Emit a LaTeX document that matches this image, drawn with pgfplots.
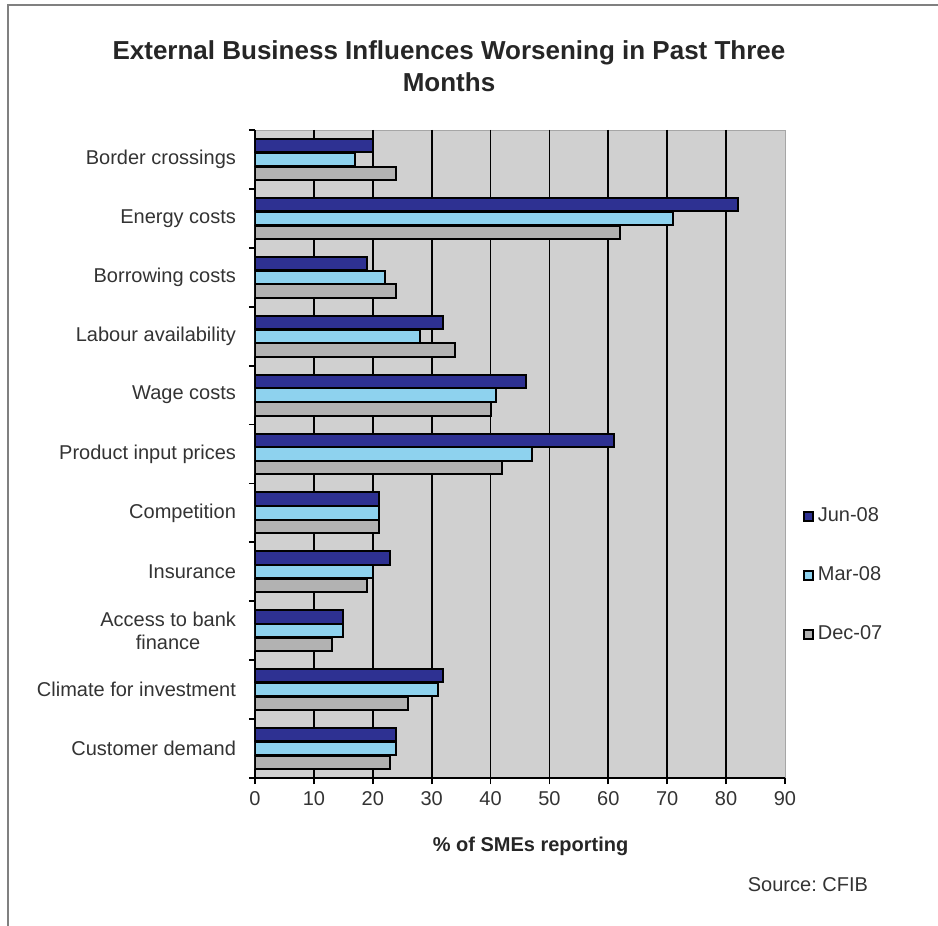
\documentclass[border=0pt]{standalone}
\usepackage{pgfplots}
\pgfplotsset{compat=1.18}
\usepackage{fontspec}
\setmainfont{Liberation Sans}
\frenchspacing
\definecolor{jun}{HTML}{2E3192}
\definecolor{mar}{HTML}{8ED2EE}
\definecolor{dec}{HTML}{B2B2B2}
\definecolor{bg}{HTML}{D0D0D0}
\definecolor{txt}{HTML}{333333}
\begin{document}
\begin{tikzpicture}
\path[use as bounding box] (0pt,0pt) rectangle (469pt,463pt);
\draw[gray, line width=1.2pt] (4pt,0pt) -- (4pt,460.5pt) -- (469pt,460.5pt);
\node[align=center, font=\fontsize{13}{16}\selectfont\bfseries, text=black!85] at (224.5pt,430pt) {External Business Influences Worsening in Past Three\\Months};
\begin{axis}[
  at={(127.5pt,74pt)}, anchor=south west,
  scale only axis, width=265pt, height=324pt,
  xmin=0, xmax=90, ymin=-0.5, ymax=10.5, y dir=reverse,
  axis background/.style={fill=bg, draw=gray!70},
  axis x line*=bottom, axis y line*=left,
  axis line style={-, black, line width=0.9pt},
  xtick={0,10,...,90},
  extra x ticks={10,20,...,80},
  extra x tick labels={},
  extra x tick style={grid=major, major grid style={black, line width=0.9pt}},
  ytick={0,...,10},
  yticklabels={Border crossings, Energy costs, Borrowing costs, Labour availability, Wage costs, Product input prices, Competition, Insurance, {Access to bank\\finance}, Climate for investment, Customer demand},
  minor ytick={-0.5,0.5,...,10.5},
  tick align=outside,
  major tick length=3pt, minor tick length=3pt,
  major y tick style={draw=none},
  minor y tick style={draw=black, line width=0.9pt},
  major x tick style={draw=black, line width=0.9pt},
  /pgf/number format/assume math mode=true,
  tick label style={font=\fontsize{10}{11.5}\selectfont, text=txt},
  yticklabel style={align=center, xshift=-3pt},
  xlabel={\bfseries \% of SMEs reporting},
  xlabel style={at={(axis description cs:0.52,0)}, anchor=north, yshift=-26pt, font=\fontsize{10}{12}\selectfont, text=black!85},
  legend style={at={(1.022,0.313)}, anchor=west, draw=none, fill=none, font=\fontsize{10}{12}\selectfont, text=txt, row sep=17pt},
  legend cell align=left,
  legend image code/.code={\draw[#1, draw=black, line width=1pt] (0pt,-2.2pt) rectangle (4.4pt,2.2pt);},
]
\addplot[xbar, bar width=0.225, bar shift=-0.235, fill=jun, draw=black, line width=1pt] coordinates {
 (20,0) (82,1) (19,2) (32,3) (46,4) (61,5) (21,6) (23,7) (15,8) (32,9) (24,10)};
\addplot[xbar, bar width=0.225, bar shift=0, fill=mar, draw=black, line width=1pt] coordinates {
 (17,0) (71,1) (22,2) (28,3) (41,4) (47,5) (21,6) (20,7) (15,8) (31,9) (24,10)};
\addplot[xbar, bar width=0.225, bar shift=0.235, fill=dec, draw=black, line width=1pt] coordinates {
 (24,0) (62,1) (24,2) (34,3) (40,4) (42,5) (21,6) (19,7) (13,8) (26,9) (23,10)};
\legend{Jun-08, Mar-08, Dec-07}
\end{axis}
\node[anchor=east, font=\fontsize{10}{12}\selectfont, text=txt] at (437.5pt,20.5pt) {Source: CFIB};
\end{tikzpicture}
\end{document}
